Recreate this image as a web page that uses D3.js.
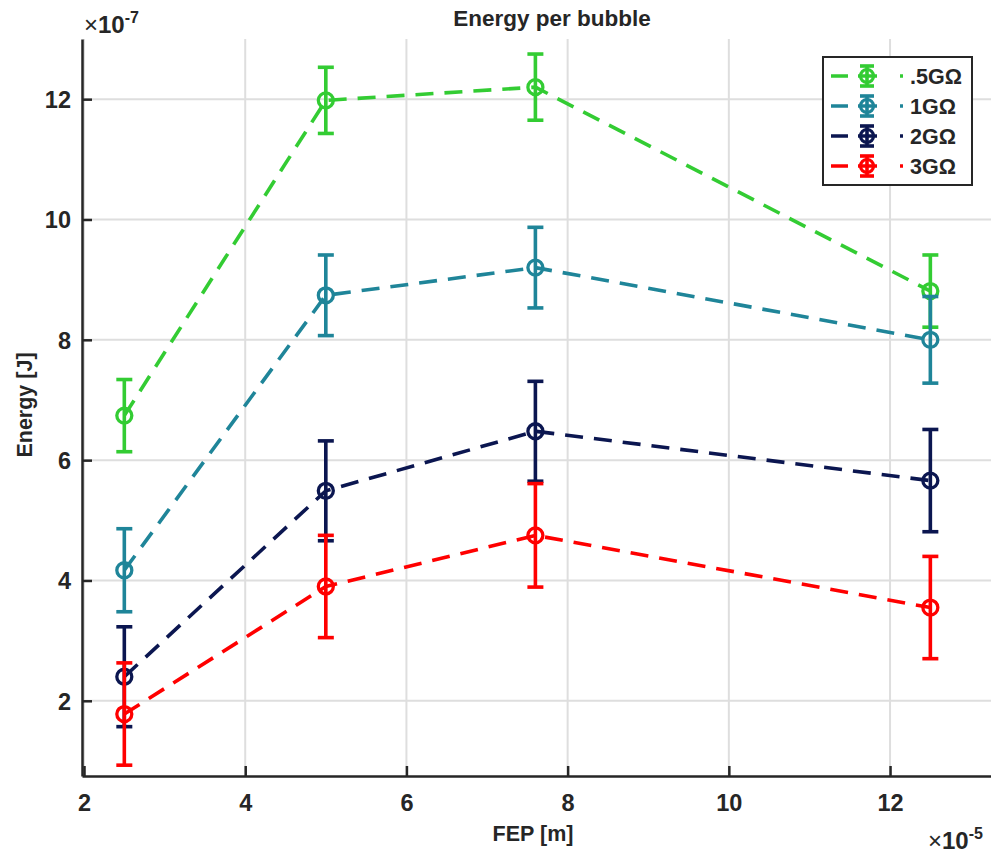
<!DOCTYPE html>
<html>
<head>
<meta charset="utf-8">
<script src="https://cdn.jsdelivr.net/npm/d3@7"></script>
<style>
  body { margin: 0; background: #fff; }
  text { font-family: "Liberation Sans", Arial, sans-serif; fill: #262626; }
</style>
</head>
<body>
<div id="chart"></div>
<script>
// FEP values (x 1e-5 m)
var fep = [2.5, 5, 7.6, 12.5];

// energy per bubble (x 1e-7 J) and error bar half-widths
var energy05 = [6.74, 11.98, 12.2, 8.81];
var err05 = [0.6, 0.55, 0.55, 0.6];
var energy1 = [4.17, 8.74, 9.2, 8.0];
var err1 = [0.69, 0.67, 0.67, 0.72];
var energy2 = [2.40, 5.49, 6.48, 5.66];
var err2 = [0.83, 0.83, 0.83, 0.85];
var energy3 = [1.78, 3.90, 4.75, 3.55];
var err3 = [0.85, 0.85, 0.86, 0.85];

var seriesNames = [".5G\u03A9", "1G\u03A9", "2G\u03A9", "3G\u03A9"];
var xTicks = [2, 4, 6, 8, 10, 12];
var yTicks = [2, 4, 6, 8, 10, 12];

var colors = ["#33cc33", "#1f8599", "#0b1650", "#ff0000"];

var series = [
  { name: seriesNames[0], y: energy05, e: err05, color: colors[0] },
  { name: seriesNames[1], y: energy1, e: err1, color: colors[1] },
  { name: seriesNames[2], y: energy2, e: err2, color: colors[2] },
  { name: seriesNames[3], y: energy3, e: err3, color: colors[3] }
];

// SVG parameters
var svgWidth = 991;
var svgHeight = 854;

// plot box edges (in pixels)
var plotLeft = 82, plotTop = 39, plotBottom = 776, plotRight = 991;

var lw = 3.6;

var svg = d3.select("#chart")
  .append("svg")
  .attr("width", svgWidth)
  .attr("height", svgHeight);

var x = d3.scaleLinear().domain([1.975, 13.25]).range([plotLeft, 990.8]);
var y = d3.scaleLinear().domain([0.75, 13.0]).range([plotBottom, plotTop]);

// grid
var grid = svg.append("g");
grid.selectAll(".gx")
  .data(xTicks)
  .enter()
  .append("line")
  .attr("x1", d => x(d)).attr("x2", d => x(d))
  .attr("y1", plotTop).attr("y2", plotBottom)
  .attr("stroke", "#dedede")
  .attr("stroke-width", 2);
grid.selectAll(".gy")
  .data(yTicks)
  .enter()
  .append("line")
  .attr("x1", plotLeft).attr("x2", plotRight)
  .attr("y1", d => y(d)).attr("y2", d => y(d))
  .attr("stroke", "#dedede")
  .attr("stroke-width", 2);

// axes (ticks pointing inward)
var xAxis = svg.append("g")
  .attr("transform", `translate(0, ${plotBottom})`)
  .call(d3.axisBottom(x).tickValues(xTicks).tickSizeInner(-10).tickSizeOuter(0).tickPadding(18));
var yAxis = svg.append("g")
  .attr("transform", `translate(${plotLeft}, 0)`)
  .call(d3.axisLeft(y).tickValues(yTicks).tickSizeInner(-10).tickSizeOuter(0).tickPadding(11));

[xAxis, yAxis].forEach(function(ax) {
  ax.select(".domain").attr("stroke", "#262626").attr("stroke-width", 2.5);
  ax.selectAll(".tick line").attr("stroke", "#262626").attr("stroke-width", 2.5);
  ax.selectAll(".tick text")
    .attr("font-size", 23.5)
    .attr("font-weight", "bold")
    .attr("fill", "#262626")
    .style("font-family", "'Liberation Sans', Arial, sans-serif");
});
yAxis.selectAll(".tick text").attr("dy", "0.36em");

// series: dashed lines, error bars, circle markers
var line = d3.line()
  .x((d, i) => x(fep[i]))
  .y(d => y(d));

series.forEach(function(s) {
  var g = svg.append("g");

  g.append("path")
    .datum(s.y)
    .attr("d", line)
    .attr("fill", "none")
    .attr("stroke", s.color)
    .attr("stroke-width", lw)
    .attr("stroke-dasharray", "18,11");

  var bars = g.selectAll(".eb")
    .data(s.y)
    .enter()
    .append("g");
  bars.append("line")
    .attr("x1", (d, i) => x(fep[i])).attr("x2", (d, i) => x(fep[i]))
    .attr("y1", (d, i) => y(d + s.e[i])).attr("y2", (d, i) => y(d - s.e[i]))
    .attr("stroke", s.color).attr("stroke-width", lw);
  bars.append("line")
    .attr("x1", (d, i) => x(fep[i]) - 8).attr("x2", (d, i) => x(fep[i]) + 8)
    .attr("y1", (d, i) => y(d + s.e[i])).attr("y2", (d, i) => y(d + s.e[i]))
    .attr("stroke", s.color).attr("stroke-width", lw);
  bars.append("line")
    .attr("x1", (d, i) => x(fep[i]) - 8).attr("x2", (d, i) => x(fep[i]) + 8)
    .attr("y1", (d, i) => y(d - s.e[i])).attr("y2", (d, i) => y(d - s.e[i]))
    .attr("stroke", s.color).attr("stroke-width", lw);
  bars.append("circle")
    .attr("cx", (d, i) => x(fep[i]))
    .attr("cy", d => y(d))
    .attr("r", 7.5)
    .attr("fill", "none")
    .attr("stroke", s.color)
    .attr("stroke-width", 3.3);
});

// title and labels
svg.append("text")
  .attr("x", 552).attr("y", 26)
  .attr("text-anchor", "middle")
  .attr("font-size", 22.5).attr("font-weight", "bold")
  .attr("fill", "#000")
  .text("Energy per bubble");

svg.append("text")
  .attr("x", 533).attr("y", 841)
  .attr("text-anchor", "middle")
  .attr("font-size", 21.5).attr("font-weight", "bold")
  .text("FEP [m]");

svg.append("text")
  .attr("transform", "translate(32, 405) rotate(-90)")
  .attr("text-anchor", "middle")
  .attr("font-size", 21.5).attr("font-weight", "bold")
  .text("Energy [J]");

// exponent labels
var expY = svg.append("text").attr("x", 84).attr("y", 33).attr("font-size", 24);
expY.append("tspan").text("\u00D7");
expY.append("tspan").attr("font-weight", "bold").text("10");
expY.append("tspan").attr("font-weight", "bold").attr("font-size", 16).attr("dy", -10).text("-7");

var expX = svg.append("text").attr("x", 928).attr("y", 849).attr("font-size", 24);
expX.append("tspan").text("\u00D7");
expX.append("tspan").attr("font-weight", "bold").text("10");
expX.append("tspan").attr("font-weight", "bold").attr("font-size", 16).attr("dy", -10).text("-5");

// legend
var legend = svg.append("g");
legend.append("rect")
  .attr("x", 823).attr("y", 57)
  .attr("width", 149).attr("height", 128)
  .attr("fill", "#fff")
  .attr("stroke", "#262626")
  .attr("stroke-width", 2);

var rowY = d3.scaleLinear().domain([0, 3]).range([76, 166]);

series.forEach(function(s, i) {
  var ry = rowY(i);
  var lg = legend.append("g");
  lg.append("line")
    .attr("x1", 831).attr("x2", 903)
    .attr("y1", ry).attr("y2", ry)
    .attr("stroke", s.color).attr("stroke-width", lw)
    .attr("stroke-dasharray", "17,10,19,23,3");
  lg.append("line")
    .attr("x1", 867).attr("x2", 867)
    .attr("y1", ry - 10).attr("y2", ry + 10)
    .attr("stroke", s.color).attr("stroke-width", lw);
  [ry - 10, ry + 10].forEach(function(cy) {
    lg.append("line")
      .attr("x1", 860).attr("x2", 874)
      .attr("y1", cy).attr("y2", cy)
      .attr("stroke", s.color).attr("stroke-width", lw);
  });
  lg.append("circle")
    .attr("cx", 867).attr("cy", ry).attr("r", 6.5)
    .attr("fill", "none")
    .attr("stroke", s.color).attr("stroke-width", 3.2);
  lg.append("text")
    .attr("x", 910).attr("y", ry + 7.5)
    .attr("font-size", 21.5).attr("font-weight", "bold")
    .attr("fill", "#000")
    .text(s.name);
});
</script>
</body>
</html>
